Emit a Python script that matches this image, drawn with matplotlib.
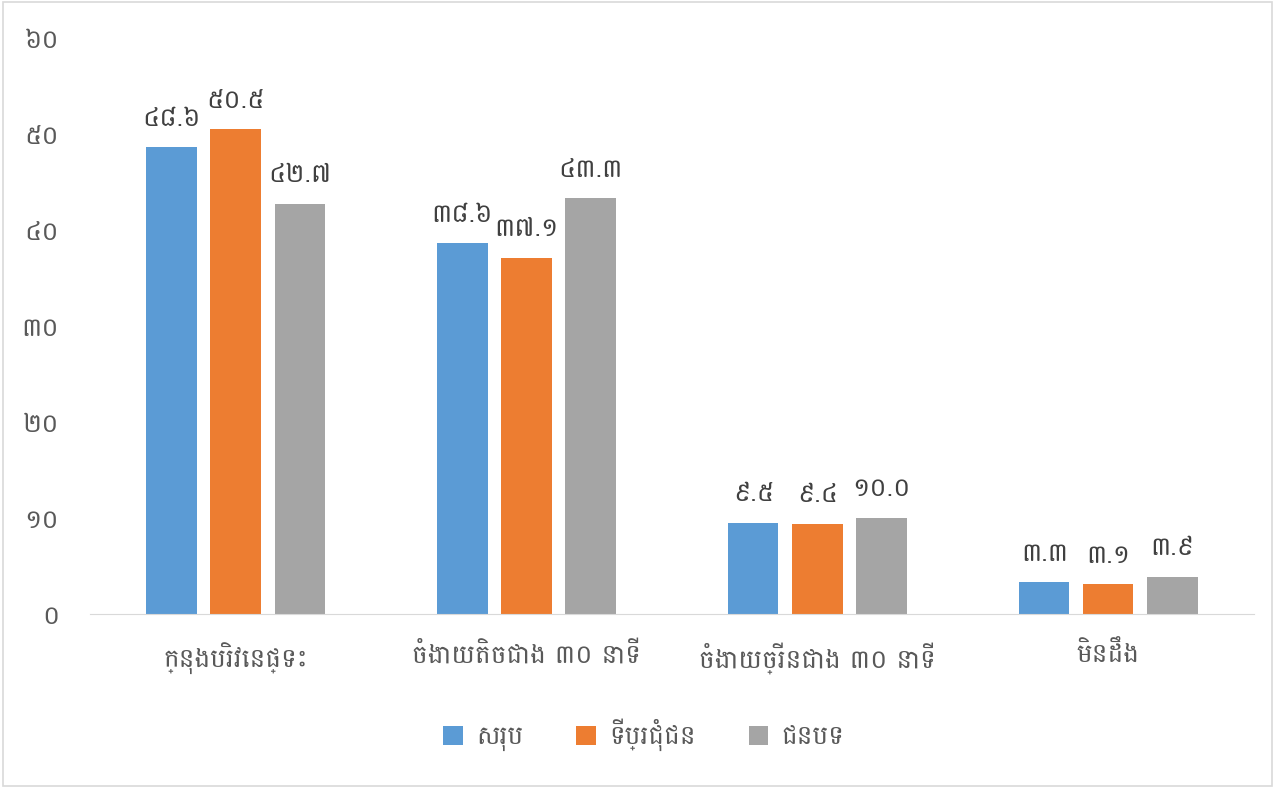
import matplotlib
matplotlib.use("Agg")
import matplotlib.pyplot as plt
import numpy as np

plt.rcParams['font.family'] = ['Battambang', 'DejaVu Sans']

# categories and series
categories = ["ក្នុងបរិវេនផ្ទះ", "ចំងាយតិចជាង ៣០ នាទី", "ចំងាយច្រើនជាង ៣០ នាទី", "មិនដឹង"]
series_names = ["សរុប", "ទីប្រជុំជន", "ជនបទ"]
total = [48.6, 38.6, 9.5, 3.3]
urban = [50.5, 37.1, 9.4, 3.1]
rural = [42.7, 43.3, 10.0, 3.9]
colors = ["#5B9BD5", "#ED7D31", "#A5A5A5"]

# western digits -> khmer digits
khmer = str.maketrans("0123456789", "០១២៣៤៥៦៧៨៩")

def kh(v, fmt="{:.1f}"):
    return fmt.format(v).translate(khmer)

text_col = "#595959"

fig = plt.figure(figsize=(12.75, 7.88), dpi=100)
ax = fig.add_axes([0.0706, 0.2208, 0.9129, 0.731])

x = np.arange(len(categories))
width = 0.172
step = 0.22
for i, (vals, name) in enumerate(zip([total, urban, rural], series_names)):
    bars = ax.bar(x + (i - 1) * step, vals, width, color=colors[i], label=name)
    for b, v in zip(bars, vals):
        ax.annotate(kh(v), (b.get_x() + b.get_width() / 2, v),
                    xytext=(0, 12), textcoords="offset points",
                    ha="center", va="bottom", fontsize=19, color="#404040")

ax.set_xlim(-0.5, 3.5)
ax.set_ylim(0, 60)
ax.set_yticks(range(0, 61, 10))
ax.set_yticklabels([kh(t, "{:d}") for t in range(0, 61, 10)], fontsize=19, color=text_col)
ax.set_xticks(x)
ax.set_xticklabels(categories, fontsize=19, color=text_col)
ax.tick_params(axis="both", length=0)
ax.tick_params(axis="x", pad=20)
ax.tick_params(axis="y", pad=22)

for s in ["top", "right", "left"]:
    ax.spines[s].set_visible(False)
ax.spines["bottom"].set_color("#D9D9D9")

fig.legend(loc="center", bbox_to_anchor=(0.505, 0.067), ncol=3, frameon=False,
           fontsize=19, handlelength=0.75, handleheight=0.75, columnspacing=2.0,
           handletextpad=0.5, labelcolor=text_col)

# light frame around the chart
fig.patches.append(plt.Rectangle((0.002, 0.002), 0.996, 0.996, transform=fig.transFigure,
                                 fill=False, edgecolor="#D9D9D9", linewidth=1.2))

fig.savefig("out.png")
